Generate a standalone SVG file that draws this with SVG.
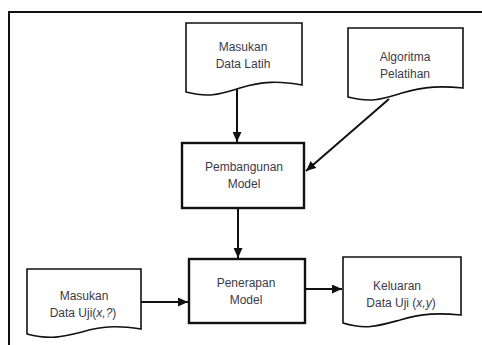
<svg xmlns="http://www.w3.org/2000/svg" width="482" height="345" viewBox="0 0 482 345">
<style>
.doc{fill:#fff;stroke:#111;stroke-width:1.6}
.box{fill:#fff;stroke:#111;stroke-width:2.4}
.t{font-family:"Liberation Sans",Arial,sans-serif;font-size:12px;fill:#3a3a4a;text-anchor:middle}
.c{stroke:#111;stroke-width:2;fill:none}
</style>
<defs>
<marker id="ah" markerUnits="userSpaceOnUse" markerWidth="11" markerHeight="9" refX="10" refY="4.5" orient="auto">
<path d="M0,0 L10,4.5 L0,9 Z" fill="#111"/>
</marker>
</defs>
<rect width="482" height="345" fill="#fff"/>
<path d="M9,345 V12 H482" fill="none" stroke="#111" stroke-width="2"/>
<g id="connectors">
<path class="c" d="M237,89 V142" marker-end="url(#ah)"/>
<path class="c" d="M389,99 L306,171" marker-end="url(#ah)"/>
<path class="c" d="M238,208 V258" marker-end="url(#ah)"/>
<path class="c" d="M141,302 H188" marker-end="url(#ah)"/>
<path class="c" d="M305,289 H342" marker-end="url(#ah)"/>
</g>
<g id="data-latih">
<path class="doc" d="M186,23 H302 V85 C280,81 262,81 240,88 C220,94 210,98 186,92 Z"/>
<text class="t" x="243" y="51">Masukan</text>
<text class="t" x="243" y="68">Data Latih</text>
</g>
<g id="algoritma">
<path class="doc" d="M348,28 H463 V88 C443,86 425,86 402,93 C382,99 372,103 348,97 Z"/>
<text class="t" x="405" y="61">Algoritma</text>
<text class="t" x="405" y="78">Pelatihan</text>
</g>
<g id="pembangunan">
<rect class="box" x="182" y="143" width="122" height="65"/>
<text class="t" x="244" y="171">Pembangunan</text>
<text class="t" x="244" y="188">Model</text>
</g>
<g id="penerapan">
<rect class="box" x="189" y="259" width="116" height="64"/>
<text class="t" x="246" y="287">Penerapan</text>
<text class="t" x="246" y="304">Model</text>
</g>
<g id="data-uji">
<path class="doc" d="M27,269 H141 V329 C122,326 105,325 82,332 C62,337 50,340 27,334 Z"/>
<text class="t" x="84" y="300">Masukan</text>
<text class="t" x="83" y="317">Data Uji(<tspan font-style="italic">x,?</tspan>)</text>
</g>
<g id="keluaran">
<path class="doc" d="M343,257 H461 V315 C440,313 422,313 400,320 C378,326 366,330 343,323 Z"/>
<text class="t" x="397" y="290">Keluaran</text>
<text class="t" x="401" y="307">Data Uji (<tspan font-style="italic">x,y</tspan>)</text>
</g>
</svg>
